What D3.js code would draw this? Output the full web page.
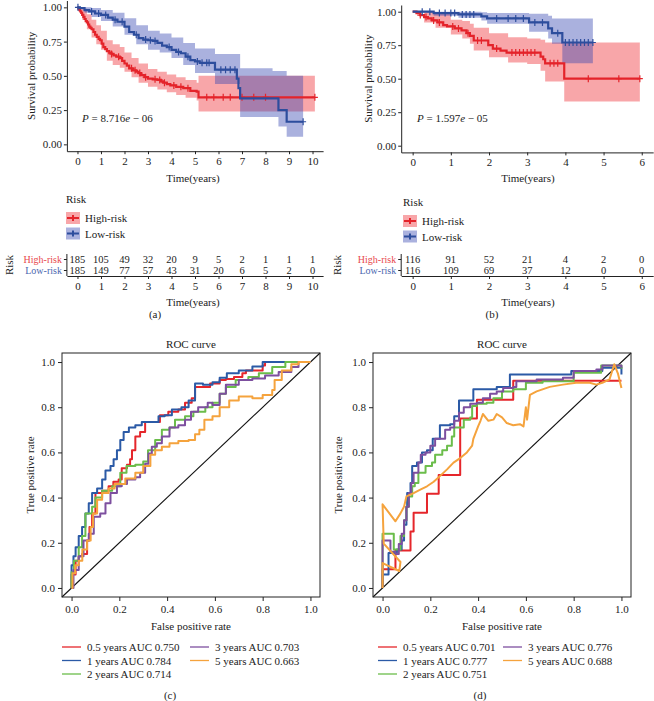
<!DOCTYPE html>
<html><head><meta charset="utf-8">
<script src="https://cdn.jsdelivr.net/npm/d3@7"></script>
<style>
body{margin:0;background:#fff}
text{font-family:"Liberation Serif","Times New Roman",serif;fill:#222;font-size:11px}
</style>
</head><body>
<svg id="c" width="654" height="701"></svg>
<script>
// ---------------- DATA ----------------
const survTicks = [0, 0.25, 0.5, 0.75, 1];
const timeTicksA = [0,1,2,3,4,5,6,7,8,9,10];
const timeTicksB = [0,1,2,3,4,5,6];
const groups = ["High-risk", "Low-risk"];

// Panel (a) KM
const hiA_t = [0,0.04,0.08,0.12,0.16,0.2,0.25,0.3,0.35,0.4,0.45,0.5,0.55,0.6,0.68,0.75,0.82,0.9,0.96,1.03,1.1,1.18,1.25,1.35,1.45,1.53,1.65,1.8,1.9,2.0,2.1,2.2,2.35,2.5,2.6,2.7,2.85,3.0,3.2,3.4,3.55,3.65,3.8,3.95,4.2,4.5,4.8,5.07,5.15,10.1];
const hiA_s = [1,0.99,0.98,0.97,0.96,0.945,0.93,0.915,0.90,0.89,0.875,0.86,0.85,0.84,0.82,0.80,0.785,0.77,0.76,0.735,0.71,0.695,0.68,0.67,0.66,0.65,0.64,0.63,0.61,0.59,0.575,0.555,0.54,0.53,0.52,0.505,0.49,0.48,0.475,0.47,0.46,0.45,0.44,0.43,0.42,0.41,0.39,0.385,0.343,0.343];
const hiA_ci_t = [0,0.2,0.4,0.6,0.8,1.0,1.25,1.5,1.8,2.0,2.3,2.6,3.0,3.4,3.8,4.2,4.6,5.07,5.15,10.1];
const hiA_up = [1,0.99,0.95,0.91,0.87,0.83,0.76,0.73,0.71,0.67,0.63,0.59,0.55,0.53,0.51,0.49,0.47,0.45,0.50,0.50];
const hiA_lo = [1,0.91,0.84,0.78,0.73,0.69,0.61,0.58,0.56,0.53,0.49,0.45,0.42,0.40,0.38,0.36,0.34,0.32,0.24,0.24];
const hiA_cens = [1.45,1.75,2.3,2.45,2.65,2.9,3.3,3.5,3.7,4.1,4.4,4.7,5.5,5.8,6.2,6.5,7.0,7.5,8.0,10.1];

const loA_t = [0,0.1,0.3,0.5,0.75,1.0,1.3,1.5,1.7,2.0,2.2,2.4,2.6,2.8,3.0,3.2,3.4,3.6,3.8,4.0,4.2,4.4,4.6,4.8,5.0,5.2,5.85,6.78,6.85,6.92,8.55,8.9,9.6];
const loA_s = [1,0.995,0.98,0.97,0.955,0.945,0.925,0.91,0.895,0.86,0.82,0.80,0.775,0.765,0.76,0.755,0.74,0.72,0.71,0.69,0.675,0.665,0.64,0.615,0.605,0.595,0.545,0.48,0.41,0.335,0.25,0.165,0.165];
const loA_ci_t = [0,0.3,0.6,1.0,1.5,2.0,2.5,3.0,3.5,4.0,4.5,5.0,5.85,6.92,8.3,8.55,8.9,9.6];
const loA_up = [1,1,0.995,0.98,0.96,0.92,0.87,0.83,0.81,0.78,0.74,0.70,0.66,0.555,0.535,0.535,0.50,0.50];
const loA_lo = [1,0.96,0.93,0.90,0.86,0.80,0.73,0.69,0.67,0.63,0.58,0.52,0.44,0.20,0.20,0.13,0.055,0.055];
const loA_cens = [0.02,0.6,0.9,1.2,1.6,1.9,2.5,2.9,3.1,3.3,3.9,4.3,4.7,5.1,5.3,5.5,5.6,6.1,6.3,6.5,6.7,9.6];

const riskHiA = [185,105,49,32,20,9,5,2,1,1,1];
const riskLoA = [185,149,77,57,43,31,20,6,5,2,0];

// Panel (b) KM
const hiB_t = [0,0.1,0.2,0.3,0.4,0.5,0.65,0.8,0.9,1.1,1.28,1.41,1.5,1.6,1.98,2.1,2.3,2.46,3.35,3.42,3.47,3.97,5.95];
const hiB_s = [1,0.99,0.975,0.96,0.95,0.935,0.92,0.90,0.89,0.875,0.86,0.84,0.82,0.785,0.75,0.725,0.71,0.695,0.665,0.645,0.615,0.50,0.50];
const hiB_ci_t = [0,0.3,0.6,1.0,1.3,1.5,1.6,2.0,2.5,3.0,3.35,3.47,3.97,5.95];
const hiB_up = [1,1,0.985,0.94,0.93,0.91,0.88,0.84,0.81,0.80,0.79,0.77,0.77,0.77];
const hiB_lo = [1,0.92,0.88,0.83,0.80,0.76,0.71,0.66,0.62,0.61,0.56,0.48,0.33,0.33];
const hiB_cens = [0.2,0.35,0.55,0.7,1.05,1.2,1.45,1.7,1.8,2.2,2.6,2.7,2.8,2.9,3.0,3.1,3.2,3.6,3.7,3.8,4.6,5.4,5.95];

const loB_t = [0,0.55,1.2,1.8,1.95,3.05,3.55,3.65,3.92,4.72];
const loB_s = [1,0.99,0.98,0.965,0.95,0.92,0.875,0.84,0.77,0.77];
const loB_ci_t = [0,0.55,1.2,1.8,1.95,3.05,3.55,3.65,3.92,4.72];
const loB_up = [1,1,1,0.995,0.99,0.985,0.97,0.95,0.95,0.95];
const loB_lo = [1,0.97,0.955,0.935,0.91,0.85,0.80,0.76,0.615,0.615];
const loB_cens = [0.25,0.45,0.7,0.85,1.0,1.1,1.3,1.4,1.5,1.6,2.2,2.5,2.7,2.9,3.2,3.4,3.8,4.0,4.1,4.2,4.3,4.4,4.5,4.6,4.72];

const riskHiB = [116,91,52,21,4,2,0];
const riskLoB = [116,109,69,37,12,0,0];

// ROC data
const rocTicks = [0,0.2,0.4,0.6,0.8,1.0];
const rocYears = [0.5,1,2,3,5];
const aucC = [0.750,0.784,0.714,0.703,0.663];
const aucD = [0.701,0.777,0.751,0.776,0.688];

const rocC_fpr = [
 [0,0,0.017,0.03,0.044,0.065,0.075,0.086,0.1,0.115,0.128,0.155,0.175,0.197,0.21,0.232,0.245,0.253,0.267,0.287,0.308,0.336,0.37,0.405,0.447,0.475,0.503,0.517,0.544,0.58,0.62,0.646,0.68,0.715,0.73,0.77,0.80,0.81,0.95,1.0],
 [0,0,0.008,0.017,0.03,0.044,0.058,0.072,0.086,0.107,0.128,0.142,0.163,0.176,0.19,0.204,0.218,0.24,0.267,0.294,0.336,0.364,0.39,0.42,0.46,0.49,0.517,0.55,0.59,0.62,0.65,0.70,0.757,0.80,0.93,1.0],
 [0,0,0.01,0.03,0.044,0.058,0.086,0.1,0.128,0.17,0.204,0.23,0.267,0.3,0.32,0.35,0.378,0.41,0.433,0.475,0.51,0.56,0.59,0.62,0.646,0.687,0.74,0.784,0.84,0.895,0.95,1.0],
 [0,0.008,0.03,0.05,0.072,0.093,0.12,0.142,0.163,0.19,0.21,0.232,0.267,0.287,0.308,0.322,0.336,0.357,0.378,0.41,0.447,0.475,0.50,0.53,0.57,0.59,0.62,0.646,0.70,0.757,0.81,0.867,0.92,0.95,1.0],
 [0,0.004,0.015,0.03,0.045,0.065,0.08,0.09,0.107,0.128,0.155,0.18,0.225,0.267,0.30,0.33,0.35,0.378,0.41,0.447,0.49,0.517,0.535,0.556,0.59,0.62,0.66,0.70,0.757,0.80,0.84,0.85,0.88,0.92,0.95,1.0]
];
const rocC_tpr = [
 [0,0.06,0.12,0.14,0.15,0.21,0.27,0.33,0.42,0.42,0.43,0.45,0.47,0.48,0.53,0.545,0.57,0.61,0.67,0.69,0.735,0.735,0.765,0.78,0.79,0.82,0.84,0.89,0.89,0.905,0.92,0.925,0.934,0.95,0.963,0.963,0.985,1.0,1.0,1.0],
 [0,0.10,0.14,0.18,0.23,0.27,0.33,0.375,0.42,0.44,0.48,0.52,0.54,0.57,0.61,0.655,0.69,0.71,0.72,0.735,0.735,0.76,0.765,0.79,0.80,0.83,0.905,0.90,0.91,0.93,0.95,0.963,0.98,1.0,1.0,1.0],
 [0,0.07,0.12,0.18,0.23,0.33,0.36,0.40,0.43,0.45,0.51,0.54,0.545,0.56,0.61,0.655,0.70,0.71,0.745,0.76,0.78,0.80,0.82,0.86,0.89,0.92,0.934,0.95,0.978,1.0,1.0,1.0],
 [0,0.08,0.14,0.21,0.24,0.315,0.33,0.375,0.42,0.45,0.46,0.48,0.49,0.51,0.55,0.595,0.625,0.64,0.67,0.71,0.72,0.745,0.78,0.80,0.82,0.81,0.86,0.90,0.92,0.927,0.94,0.956,0.978,1.0,1.0],
 [0,0.065,0.10,0.12,0.17,0.21,0.27,0.33,0.39,0.42,0.44,0.46,0.485,0.51,0.54,0.59,0.61,0.625,0.64,0.65,0.655,0.68,0.70,0.745,0.76,0.80,0.83,0.847,0.84,0.854,0.876,0.92,0.963,0.99,1.0,1.0]
];

const rocD_fpr = [
 [0,0,0.054,0.117,0.13,0.186,0.235,0.325,0.395,0.547,1.0],
 [0,0,0.015,0.025,0.06,0.08,0.09,0.10,0.103,0.117,0.124,0.144,0.165,0.186,0.21,0.24,0.283,0.30,0.32,0.367,0.38,0.45,0.478,0.533,0.79,0.92,1.0,1.0],
 [0,0,0.047,0.06,0.075,0.09,0.10,0.11,0.124,0.135,0.15,0.18,0.207,0.22,0.25,0.27,0.29,0.30,0.34,0.367,0.375,0.395,0.436,0.464,0.50,0.547,0.60,0.67,0.80,0.915,1.0],
 [0,0,0.033,0.054,0.068,0.08,0.09,0.10,0.11,0.12,0.13,0.15,0.16,0.18,0.20,0.22,0.24,0.262,0.283,0.30,0.32,0.34,0.367,0.395,0.42,0.45,0.478,0.505,0.547,0.56,0.645,0.755,0.80,0.895,0.92,1.0],
 [0,0,0.07,0.075,0.005,0,0.054,0.075,0.09,0.10,0.13,0.158,0.186,0.214,0.24,0.27,0.297,0.325,0.353,0.375,0.38,0.40,0.41,0.42,0.443,0.464,0.478,0.50,0.52,0.547,0.575,0.59,0.60,0.605,0.617,0.645,0.70,0.755,0.81,0.867,0.895,0.92,0.95,0.97,0.985,1.0]
];
const rocD_tpr = [
 [0,0.083,0.166,0.25,0.333,0.417,0.50,0.75,0.833,0.917,0.917],
 [0,0.06,0.06,0.155,0.17,0.21,0.28,0.36,0.42,0.465,0.54,0.555,0.60,0.61,0.66,0.72,0.725,0.76,0.83,0.83,0.88,0.88,0.89,0.945,0.96,0.975,0.975,0.945],
 [0,0.24,0.17,0.17,0.23,0.30,0.36,0.405,0.45,0.465,0.51,0.54,0.555,0.59,0.61,0.63,0.67,0.71,0.745,0.755,0.805,0.815,0.82,0.84,0.87,0.88,0.908,0.915,0.953,0.985,0.97],
 [0,0.21,0.16,0.15,0.195,0.24,0.30,0.36,0.42,0.465,0.51,0.555,0.59,0.60,0.63,0.66,0.66,0.70,0.71,0.74,0.775,0.80,0.815,0.82,0.84,0.86,0.87,0.885,0.89,0.915,0.923,0.93,0.96,0.967,0.985,0.975],
 [0,0.11,0.075,0.115,0.196,0.37,0.295,0.33,0.36,0.405,0.42,0.435,0.45,0.47,0.495,0.525,0.555,0.575,0.60,0.63,0.66,0.715,0.74,0.77,0.74,0.745,0.77,0.755,0.73,0.72,0.725,0.715,0.80,0.745,0.855,0.87,0.89,0.90,0.908,0.908,0.90,0.908,0.923,0.99,0.95,0.885]
];

// ---------------- STYLE ----------------
const KM_RED = "#e4232a", KM_BLUE = "#2d4d9d";
const BAND_RED = "#ee2b33", BAND_BLUE = "#3545b0";
const TAB_RED = "#e8484d", TAB_BLUE = "#4b67b0";
const ROC_COL = ["#e5262b", "#2b5aa6", "#6bbd4b", "#7d4f9f", "#f5a33d"];
const FONT = '"Liberation Serif","Times New Roman",serif';

const svg = d3.select("#c");
svg.append("rect").attr("width",654).attr("height",701).attr("fill","#fff");

function stepVal(ts, ss, t) { let v = ss[0]; for (let i = 0; i < ts.length; i++) if (ts[i] <= t) v = ss[i]; return v; }

function styleAxis(a, size) {
  a.selectAll("path,line").attr("stroke","#222");
  a.selectAll("text").style("font-size", size + "px").attr("fill","#222").style("font-family", FONT);
}

function kmPanel(o) {
  const g = svg.append("g");
  const x = d3.scaleLinear().domain(o.xdom).range(o.xr);
  const y = d3.scaleLinear().domain([-0.05, 1.05]).range(o.yr);
  const area = d3.area().curve(d3.curveStepAfter);
  const line = d3.line().curve(d3.curveStepAfter);
  o.series.forEach(s => {
    g.append("path")
      .attr("d", area.x((d,i)=>x(s.ci_t[i])).y0((d,i)=>y(s.lo[i])).y1((d,i)=>y(s.up[i]))(s.ci_t))
      .attr("fill", s.band).attr("fill-opacity", 0.42);
  });
  o.series.forEach(s => {
    g.append("path")
      .attr("d", line.x((d,i)=>x(s.t[i])).y((d,i)=>y(s.s[i]))(s.t))
      .attr("fill","none").attr("stroke", s.col).attr("stroke-width", 2.2);
    s.cens.forEach(c => {
      const cx = x(c), cy = y(stepVal(s.t, s.s, c));
      g.append("path").attr("d", `M${cx},${cy-3.5}V${cy+3.5}M${cx-3},${cy}H${cx+3}`)
        .attr("stroke", s.col).attr("stroke-width", 1.2);
    });
  });
  // axes
  const ax = g.append("g").attr("transform", `translate(0,${o.yr[0]})`)
    .call(d3.axisBottom(x).tickValues(o.xticks).tickFormat(d3.format("d")).tickSize(3).tickPadding(3).tickSizeOuter(0));
  const ay = g.append("g").attr("transform", `translate(${o.xr[0]},0)`)
    .call(d3.axisLeft(y).tickValues(survTicks).tickFormat(d3.format(".2f")).tickSize(3).tickPadding(2).tickSizeOuter(0));
  styleAxis(ax, 11); styleAxis(ay, 11);
  // labels
  g.append("text").attr("transform", `translate(${o.ylabX},${y(0.5)}) rotate(-90)`).attr("text-anchor","middle").attr("dy","0.35em").text("Survival probability");
  g.append("text").attr("x", o.midX).attr("y", 182).attr("text-anchor","middle").text("Time(years)");
  const pt = g.append("text").attr("x", o.pX).attr("y", 122);
  pt.append("tspan").attr("font-style","italic").text("P");
  pt.append("tspan").text(" = " + o.pMant);
  pt.append("tspan").attr("font-style","italic").text("e");
  pt.append("tspan").text(" \u2212 " + o.pExp);

  // legend
  g.append("text").attr("x", o.legX).attr("y", o.legY).text("Risk");
  o.series.forEach((s, i) => {
    const ky = o.legY + 9 + i * 15.5;
    g.append("rect").attr("x", o.legX).attr("y", ky).attr("width", 14).attr("height", 12).attr("fill", s.band).attr("fill-opacity", 0.42);
    g.append("path").attr("d", `M${o.legX+1},${ky+6}H${o.legX+13}M${o.legX+7},${ky+3}V${ky+9}`).attr("stroke", s.col).attr("stroke-width", 2);
    g.append("text").attr("x", o.legX + 19).attr("y", ky + 10).text(groups[i]);
  });

  // risk table
  const rows = [259.5, 270.5];
  const tx = g.append("g").attr("transform", "translate(0,276)")
    .call(d3.axisBottom(x).tickValues(o.xticks).tickFormat(d3.format("d")).tickSize(3).tickPadding(3).tickSizeOuter(0));
  styleAxis(tx, 11);
  g.append("line").attr("x1", o.xr[0]).attr("x2", o.xr[0]).attr("y1", 254).attr("y2", 276).attr("stroke","#222");
  o.risk.forEach((arr, r) => {
    g.append("line").attr("x1", o.xr[0]-3).attr("x2", o.xr[0]).attr("y1", rows[r]).attr("y2", rows[r]).attr("stroke","#222");
    g.append("text").attr("x", o.xr[0]-5).attr("y", rows[r]+3.5).attr("text-anchor","end").style("font-size","10px")
      .style("fill", r === 0 ? TAB_RED : TAB_BLUE).text(groups[r]);
    arr.forEach((v, i) => {
      g.append("text").attr("x", x(o.xticks[i])).attr("y", rows[r]+3.5).attr("text-anchor","middle").style("font-size","10.5px").text(v);
    });
  });
  g.append("text").attr("transform", `translate(${o.riskX},265) rotate(-90)`).attr("text-anchor","middle").attr("dy","0.35em").text("Risk");
  g.append("text").attr("x", o.midX).attr("y", 306).attr("text-anchor","middle").text("Time(years)");
  g.append("text").attr("x", o.tagX).attr("y", 318).attr("text-anchor","middle").text(o.tag);
}

kmPanel({
  xdom: [-0.45, 10.45], xr: [66.9, 323.1], yr: [151.2, 0.5], xticks: timeTicksA,
  ylabX: 31, midX: 193, pX: 82, pMant: "8.716", pExp: "06",
  legX: 66, legY: 203, riskX: 9, tagX: 155, tag: "(a)",
  risk: [riskHiA, riskLoA],
  series: [
    {t: hiA_t, s: hiA_s, ci_t: hiA_ci_t, up: hiA_up, lo: hiA_lo, cens: hiA_cens, col: KM_RED, band: BAND_RED},
    {t: loA_t, s: loA_s, ci_t: loA_ci_t, up: loA_up, lo: loA_lo, cens: loA_cens, col: KM_BLUE, band: BAND_BLUE}
  ]
});
kmPanel({
  xdom: [-0.3, 6.3], xr: [401.2, 653.2], yr: [152.4, 5], xticks: timeTicksB,
  ylabX: 368, midX: 528, pX: 417, pMant: "1.597", pExp: "05",
  legX: 403, legY: 206, riskX: 337, tagX: 492, tag: "(b)",
  risk: [riskHiB, riskLoB],
  series: [
    {t: hiB_t, s: hiB_s, ci_t: hiB_ci_t, up: hiB_up, lo: hiB_lo, cens: hiB_cens, col: KM_RED, band: BAND_RED},
    {t: loB_t, s: loB_s, ci_t: loB_ci_t, up: loB_up, lo: loB_lo, cens: loB_cens, col: KM_BLUE, band: BAND_BLUE}
  ]
});

function rocPanel(o) {
  const g = svg.append("g");
  const top = 353, bottom = 597;
  const x = d3.scaleLinear().domain([-0.04, 1.04]).range([o.left, o.right]);
  const y = d3.scaleLinear().domain([-0.04, 1.04]).range([bottom, top]);
  g.append("text").attr("x", (o.left + o.right) / 2).attr("y", 348).attr("text-anchor","middle").text("ROC curve");
  g.append("line").attr("x1", x(-0.04)).attr("y1", y(-0.04)).attr("x2", x(1.04)).attr("y2", y(1.04)).attr("stroke","#111").attr("stroke-width",1.1);
  o.fpr.forEach((fx, k) => {
    const ty = o.tpr[k];
    const ln = d3.line().curve(o.linear[k] ? d3.curveLinear : d3.curveStepAfter).x((d,i)=>x(fx[i])).y((d,i)=>y(ty[i]));
    g.append("path").attr("d", ln(fx)).attr("fill","none").attr("stroke", ROC_COL[k]).attr("stroke-width", 2).attr("stroke-linejoin","round");
  });
  g.append("rect").attr("x", o.left).attr("y", top).attr("width", o.right - o.left).attr("height", bottom - top).attr("fill","none").attr("stroke","#222").attr("stroke-width",1);
  const ax = g.append("g").attr("transform", `translate(0,${bottom})`)
    .call(d3.axisBottom(x).tickValues(rocTicks).tickFormat(d3.format(".1f")).tickSize(4).tickPadding(4).tickSizeOuter(0));
  const ay = g.append("g").attr("transform", `translate(${o.left},0)`)
    .call(d3.axisLeft(y).tickValues(rocTicks).tickFormat(d3.format(".1f")).tickSize(4).tickPadding(3).tickSizeOuter(0));
  [ax, ay].forEach(a => { a.select(".domain").remove(); styleAxis(a, 11); });
  g.append("text").attr("x", (o.left + o.right) / 2).attr("y", 630).attr("text-anchor","middle").text("False positive rate");
  g.append("text").attr("transform", `translate(${o.ylabX},${(top+bottom)/2}) rotate(-90)`).attr("text-anchor","middle").attr("dy","0.35em").text("True positive rate");
  const pos = [[0,0],[0,1],[0,2],[1,0],[1,1]];
  rocYears.forEach((yr, k) => {
    const [c, r] = pos[k];
    const lx = o.legCols[c], ly = 647 + r * 13.5;
    g.append("line").attr("x1", lx).attr("x2", lx + 19).attr("y1", ly).attr("y2", ly).attr("stroke", ROC_COL[k]).attr("stroke-width", 1.3);
    g.append("text").attr("x", lx + 25).attr("y", ly + 4).text(`${yr} years AUC ${o.auc[k].toFixed(3)}`);
  });
  g.append("text").attr("x", o.tagX).attr("y", 699).attr("text-anchor","middle").text(o.tag);
}

rocPanel({left: 62, right: 320, fpr: rocC_fpr, tpr: rocC_tpr, linear: [false,false,false,false,false],
  auc: aucC, ylabX: 30, legCols: [62, 190], tagX: 170, tag: "(c)"});
rocPanel({left: 373, right: 631, fpr: rocD_fpr, tpr: rocD_tpr, linear: [false,false,false,false,true],
  auc: aucD, ylabX: 338, legCols: [378, 503], tagX: 480, tag: "(d)"});
</script>
</body></html>
